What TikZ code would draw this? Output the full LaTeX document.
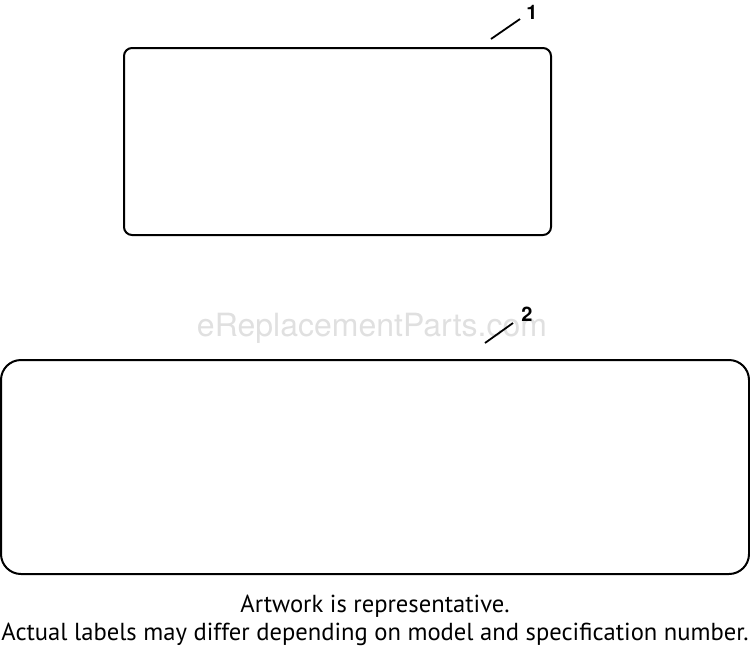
\documentclass[tikz,border=0pt]{standalone}
\usepackage{fontspec}
\setmainfont{PT Sans}
\newfontfamily\calloutfont{TeX Gyre Heros}
\usetikzlibrary{positioning}

\begin{document}
\begin{tikzpicture}[x=0.5pt,y=-0.5pt,
    labelbox/.style={draw, line width=1pt, inner sep=0pt},
    callout/.style={font=\calloutfont\fontsize{10}{10}\selectfont\bfseries, inner sep=0pt},
    leader/.style={line width=0.9pt},
    note/.style={font=\fontsize{12.3}{14}\selectfont, inner sep=0pt}]
      \useasboundingbox (0,0) rectangle (750,650);
      % watermark
      \node[text=black!12, font=\calloutfont\fontsize{16}{18}\selectfont] (mark) at (372,328) {eReplacementParts.com};
      % the two labels
      \node[labelbox, rounded corners=4pt, minimum width=213.5pt, minimum height=93.5pt] (box1) at (337.5,141.5) {};
      \node[labelbox, rounded corners=10pt, minimum width=374pt, minimum height=107pt] (box2) at (375,467) {};
      % callouts
      \node[callout] (n1) at (532,12) {1};
      \coordinate (tip1) at (491,39);
      \coordinate (end1) at (520,19);
      \draw[leader] (tip1) -- (end1);
      \node[callout] (n2) at (527,314) {2};
      \coordinate (tip2) at (485,343);
      \coordinate (end2) at (513,323);
      \draw[leader] (tip2) -- (end2);
      % note
      \node[note] (note1) at (375,606) {Artwork is representative.};
      \node[note] (note2) at (375,634) {Actual labels may differ depending on model and specification number.};
    \end{tikzpicture}
\end{document}
